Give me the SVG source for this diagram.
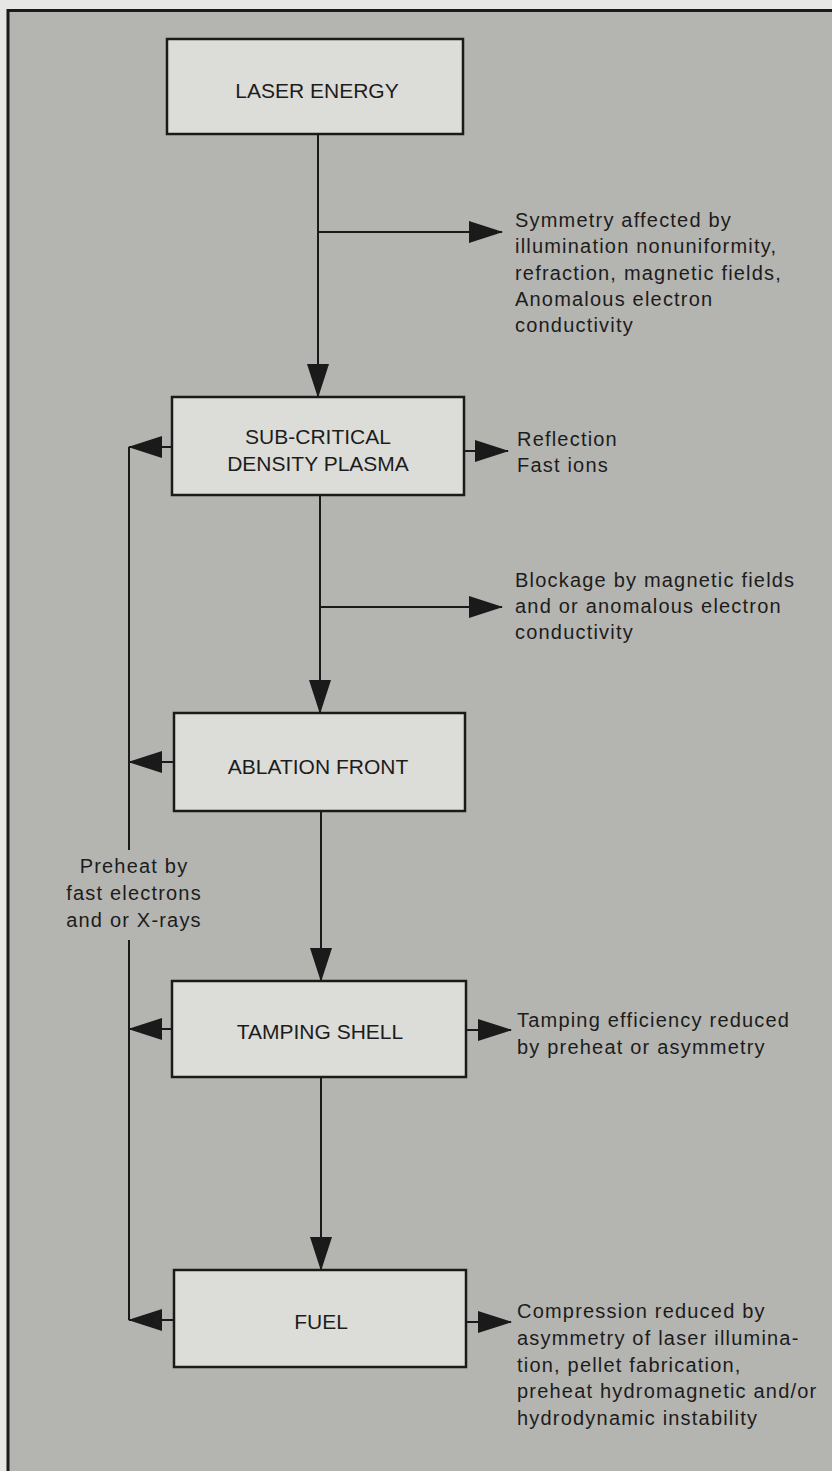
<svg xmlns="http://www.w3.org/2000/svg" width="832" height="1471" viewBox="0 0 832 1471">
  <defs>
    <marker id="ah" markerUnits="userSpaceOnUse" markerWidth="34" markerHeight="22" refX="33" refY="11" orient="auto" viewBox="0 0 34 22">
      <path d="M0,0 L34,11 L0,22 z" fill="#1a1a1a"/>
    </marker>
    <style>
      .box { fill: #dcdcd9; stroke: #1a1a1a; stroke-width: 2.5; }
      .node { font-family: "Liberation Sans", Arial, sans-serif; font-size: 21px; fill: #1c1c1c; text-anchor: middle; }
      .note { font-family: "Liberation Sans", Arial, sans-serif; font-size: 20px; letter-spacing: 1.2px; fill: #1c1c1c; }
      .conn { fill: none; stroke: #1a1a1a; stroke-width: 2; }
      .arr { marker-end: url(#ah); }
    </style>
  </defs>

  <!-- page and frame -->
  <rect x="0" y="0" width="832" height="1471" fill="#e6e6e4"/>
  <rect x="8" y="10" width="824" height="1461" fill="#b4b4b1"/>
  <path d="M8,1471 V10.5 H832" fill="none" stroke="#1a1a1a" stroke-width="3"/>

  <!-- connectors -->
  <g id="connectors">
    <line class="conn arr" x1="318" y1="134" x2="318" y2="397"/>
    <line class="conn arr" x1="318" y1="232" x2="502" y2="232"/>
    <line class="conn arr" x1="320" y1="495" x2="320" y2="713"/>
    <line class="conn arr" x1="320" y1="607" x2="502" y2="607"/>
    <line class="conn arr" x1="321" y1="811" x2="321" y2="981"/>
    <line class="conn arr" x1="321" y1="1077" x2="321" y2="1270"/>

    <line class="conn arr" x1="464" y1="451" x2="508" y2="451"/>
    <line class="conn arr" x1="466" y1="1030" x2="511" y2="1030"/>
    <line class="conn arr" x1="466" y1="1322" x2="511" y2="1322"/>

    <line class="conn arr" x1="172" y1="447" x2="129" y2="447"/>
    <line class="conn arr" x1="174" y1="762" x2="129" y2="762"/>
    <line class="conn arr" x1="172" y1="1029" x2="129" y2="1029"/>
    <line class="conn arr" x1="174" y1="1320" x2="129" y2="1320"/>

    <path class="conn" d="M129,447 V850 M129,940 V1320"/>
  </g>

  <!-- nodes -->
  <g id="laser-energy">
    <rect class="box" x="167" y="39" width="296" height="95"/>
    <text class="node" x="317" y="98">LASER ENERGY</text>
  </g>
  <g id="sub-critical">
    <rect class="box" x="172" y="397" width="292" height="98"/>
    <text class="node" x="318" y="444">SUB-CRITICAL</text>
    <text class="node" x="318" y="471">DENSITY PLASMA</text>
  </g>
  <g id="ablation-front">
    <rect class="box" x="174" y="713" width="291" height="98"/>
    <text class="node" x="318" y="774">ABLATION FRONT</text>
  </g>
  <g id="tamping-shell">
    <rect class="box" x="172" y="981" width="294" height="96"/>
    <text class="node" x="320" y="1039">TAMPING SHELL</text>
  </g>
  <g id="fuel">
    <rect class="box" x="174" y="1270" width="292" height="97"/>
    <text class="node" x="321" y="1329">FUEL</text>
  </g>

  <!-- annotations -->
  <g id="note-symmetry">
    <text class="note" x="515" y="227">Symmetry affected by</text>
    <text class="note" x="515" y="253">illumination nonuniformity,</text>
    <text class="note" x="515" y="280">refraction, magnetic fields,</text>
    <text class="note" x="515" y="306">Anomalous electron</text>
    <text class="note" x="515" y="332">conductivity</text>
  </g>
  <g id="note-reflection">
    <text class="note" x="517" y="446">Reflection</text>
    <text class="note" x="517" y="472">Fast ions</text>
  </g>
  <g id="note-blockage">
    <text class="note" x="515" y="587">Blockage by magnetic fields</text>
    <text class="note" x="515" y="613">and or anomalous electron</text>
    <text class="note" x="515" y="639">conductivity</text>
  </g>
  <g id="note-preheat">
    <text class="note" x="134" y="873" text-anchor="middle">Preheat by</text>
    <text class="note" x="134" y="900" text-anchor="middle">fast electrons</text>
    <text class="note" x="134" y="927" text-anchor="middle">and or X-rays</text>
  </g>
  <g id="note-tamping">
    <text class="note" x="517" y="1027">Tamping efficiency reduced</text>
    <text class="note" x="517" y="1054">by preheat or asymmetry</text>
  </g>
  <g id="note-compression">
    <text class="note" x="517" y="1318">Compression reduced by</text>
    <text class="note" x="517" y="1345">asymmetry of laser illumina-</text>
    <text class="note" x="517" y="1372">tion, pellet fabrication,</text>
    <text class="note" x="517" y="1398">preheat hydromagnetic and/or</text>
    <text class="note" x="517" y="1425">hydrodynamic instability</text>
  </g>
</svg>
